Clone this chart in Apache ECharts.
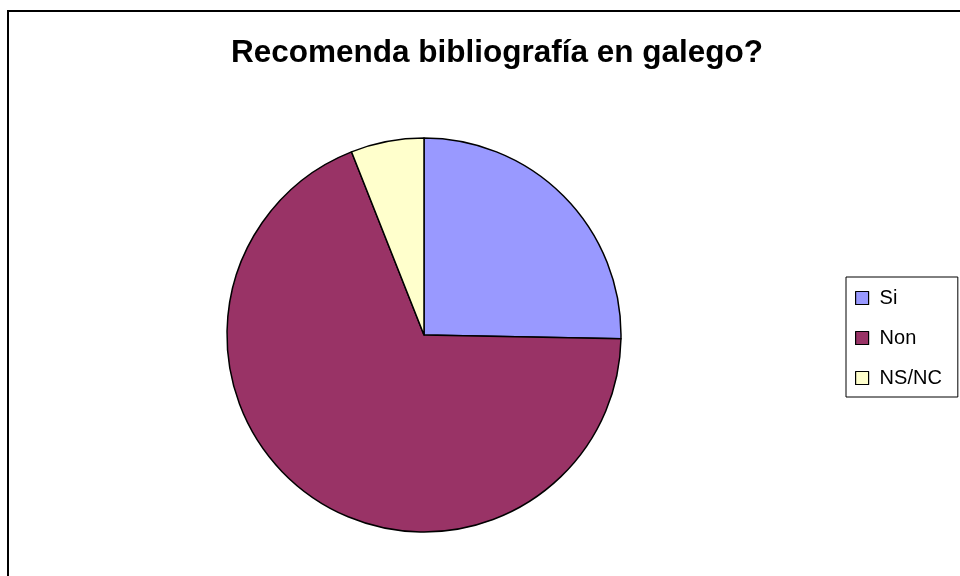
<!DOCTYPE html>
<html>
<head>
<meta charset="utf-8">
<script src="https://cdn.jsdelivr.net/npm/echarts@6/dist/echarts.min.js"></script>
<style>html,body{margin:0;padding:0;background:#fff;}#c{width:960px;height:576px;}</style>
</head>
<body>
<div id="c"></div>
<script>
const titleText = 'Recomenda bibliografía en galego?';
const categories = ['Si', 'Non', 'NS/NC'];
const values = [25.3, 68.7, 6.0];
const colors = ['#9999FF', '#993366', '#FFFFCC'];

const chart = echarts.init(document.getElementById('c'), null, {renderer: 'canvas'});
chart.setOption({
  animation: false,
  backgroundColor: '#fff',
  title: {
    text: titleText,
    left: 497, top: 37,
    textAlign: 'center',
    padding: 0,
    textStyle: {fontFamily: 'Liberation Sans, Arial', fontWeight: 'bold', fontSize: 31.5, color: '#000'}
  },
  legend: {
    orient: 'vertical',
    left: 846, top: 277,
    data: categories,
    icon: 'rect',
    itemWidth: 13, itemHeight: 13,
    itemGap: 20,
    padding: [11, 16, 9, 9],
    borderColor: '#000', borderWidth: 1,
    itemStyle: {borderColor: '#000', borderWidth: 1.2},
    textStyle: {fontFamily: 'Liberation Sans, Arial', fontSize: 20, color: '#000', lineHeight: 20, padding: [0, 0, 0, 6]},
    selectedMode: false
  },
  graphic: [{
    type: 'rect', silent: true, z: -1,
    shape: {x: 8, y: 11, width: 1000, height: 700},
    style: {fill: 'none', stroke: '#000', lineWidth: 2}
  }],
  series: [{
    type: 'pie',
    center: [424, 335],
    radius: 197,
    startAngle: 90,
    clockwise: true,
    label: {show: false},
    labelLine: {show: false},
    emphasis: {disabled: true},
    itemStyle: {borderColor: '#000', borderWidth: 1.5},
    data: categories.map((c, i) => ({name: c, value: values[i], itemStyle: {color: colors[i]}}))
  }]
});
</script>
</body>
</html>
